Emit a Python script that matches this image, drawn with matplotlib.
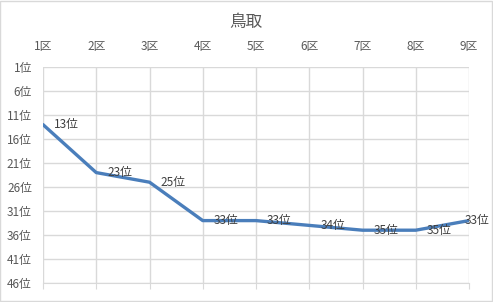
import matplotlib
matplotlib.use("Agg")
import matplotlib.pyplot as plt
from matplotlib.patches import Rectangle

plt.rcParams['font.family'] = ['Noto Sans CJK JP', 'DejaVu Sans']

categories = ["1区", "2区", "3区", "4区", "5区", "6区", "7区", "8区", "9区"]
ranks = [13, 23, 25, 33, 33, 34, 35, 35, 33]
y_ticks = [1, 6, 11, 16, 21, 26, 31, 36, 41, 46]
y_labels = [f"{v}位" for v in y_ticks]
title = "鳥取"

text_color = "#595959"
grid_color = "#d9d9d9"
line_color = "#4a7ebb"

fig = plt.figure(figsize=(4.93, 3.02), dpi=100)
fig.patches.append(Rectangle((0.001, 0.002), 0.997, 0.995, transform=fig.transFigure,
                             fill=False, edgecolor="#d9d9d9", linewidth=1))
ax = fig.add_axes([43/493, 1-283/302, (469-43)/493, (283-67)/302])

x = list(range(len(categories)))
ax.plot(x, ranks, color=line_color, linewidth=2.4, solid_capstyle='round', zorder=3)
n = len(categories)
for xi, r in zip(x, ranks):
    dx = 8 if xi < n - 1 else -3
    ax.annotate(f"{r}位", (xi, r), xytext=(dx, 0), textcoords="offset points",
                ha="left", va="center", fontsize=8.5, color="#404040", zorder=4,
                annotation_clip=False)

ax.set_xlim(0, n - 1)
ax.set_ylim(46, 1)
ax.set_xticks(x)
ax.set_xticklabels(categories)
ax.set_yticks(y_ticks)
ax.set_yticklabels(y_labels)
ax.xaxis.tick_top()
ax.tick_params(axis='x', which='both', top=False, bottom=True, labeltop=True, labelbottom=False,
               length=4, color=grid_color, labelsize=8.5, labelcolor=text_color, pad=6)
ax.tick_params(axis='y', length=0, labelsize=8.5, labelcolor=text_color, pad=8)
ax.grid(True, color=grid_color, linewidth=1)
for s in ax.spines.values():
    s.set_visible(False)
ax.spines['bottom'].set_visible(True)
ax.spines['bottom'].set_color(grid_color)

fig.text(246/493, 1-22/302, title, ha="center", va="center", fontsize=12, color=text_color)

fig.savefig("out.png", dpi=100)
